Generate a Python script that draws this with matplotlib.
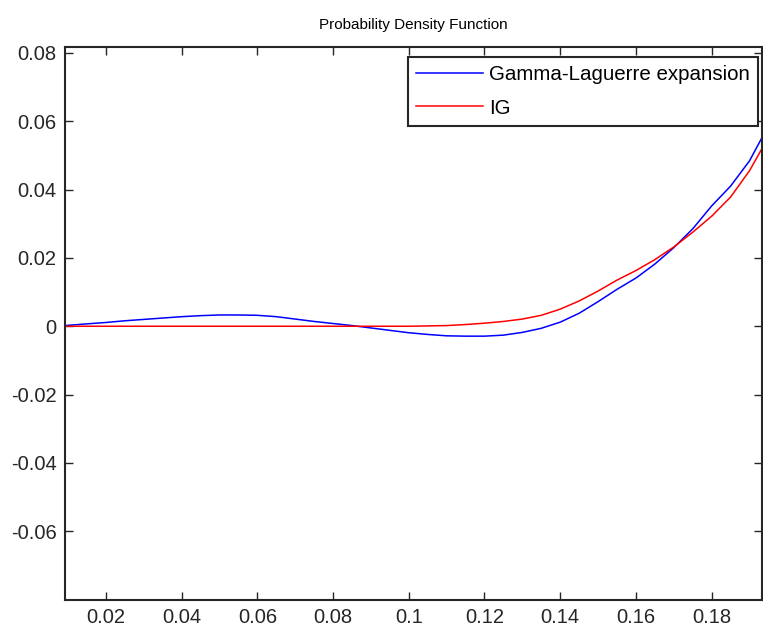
import matplotlib
matplotlib.use('Agg')
import matplotlib.pyplot as plt

# 读取自原图的数据
x = [0.0092, 0.015, 0.02, 0.025, 0.03, 0.035, 0.04, 0.045, 0.05, 0.055,
     0.06, 0.065, 0.07, 0.075, 0.08, 0.085, 0.09, 0.095, 0.10, 0.105,
     0.11, 0.115, 0.12, 0.125, 0.13, 0.135, 0.14, 0.145, 0.15, 0.155,
     0.16, 0.165, 0.17, 0.175, 0.18, 0.185, 0.19, 0.1933]
gamma_laguerre = [0.0002, 0.0007, 0.0011, 0.0016, 0.0020, 0.0024, 0.0028, 0.0031, 0.0033, 0.0033,
                  0.0032, 0.0028, 0.0021, 0.0014, 0.0008, 0.0002, -0.0005, -0.0012, -0.0019, -0.0024,
                  -0.0028, -0.0029, -0.0029, -0.0026, -0.0018, -0.0006, 0.0012, 0.0038, 0.0072, 0.0108,
                  0.0141, 0.0182, 0.0230, 0.0285, 0.0352, 0.0410, 0.0484, 0.0552]
ig = [0.0, 0.0, 0.0, 0.0, 0.0, 0.0, 0.0, 0.0, 0.0, 0.0,
      0.0, 0.0, 0.0, 0.0, 0.0, 0.0, 0.0, 0.0, 0.0, 0.0001,
      0.0002, 0.0005, 0.0009, 0.0014, 0.0021, 0.0032, 0.0050, 0.0074, 0.0103, 0.0135,
      0.0163, 0.0195, 0.0232, 0.0275, 0.0322, 0.0378, 0.0455, 0.0520]
series_names = ['Gamma-Laguerre expansion', 'IG']

xticks = [0.02, 0.04, 0.06, 0.08, 0.1, 0.12, 0.14, 0.16, 0.18]
xticklabels = ['0.02', '0.04', '0.06', '0.08', '0.1', '0.12', '0.14', '0.16', '0.18']
yticks = [-0.06, -0.04, -0.02, 0, 0.02, 0.04, 0.06, 0.08]
yticklabels = ['-0.06', '-0.04', '-0.02', '0', '0.02', '0.04', '0.06', '0.08']

plt.rcParams['font.family'] = ['Liberation Sans', 'DejaVu Sans']
plt.rcParams['axes.unicode_minus'] = False

fig = plt.figure(figsize=(7.63, 6.31), dpi=100)
ax = fig.add_axes([0.0852, 0.0491, 0.9135, 0.8764])

ax.plot(x, gamma_laguerre, color='#0000ff', linewidth=1.1, label=series_names[0])
ax.plot(x, ig, color='#ff0000', linewidth=1.1, label=series_names[1])

ax.set_xlim(0.0092, 0.1933)
ax.set_ylim(-0.0801, 0.0817)
ax.set_xticks(xticks)
ax.set_xticklabels(xticklabels)
ax.set_yticks(yticks)
ax.set_yticklabels(yticklabels)
ax.tick_params(direction='in', length=6, width=1, top=True, right=True,
               labelsize=14.5, colors='#262626', pad=6)
for s in ax.spines.values():
    s.set_linewidth(1.5)
    s.set_color('#262626')

ax.set_title('Probability Density Function', fontsize=11, pad=13)

leg = ax.legend(loc='upper right', bbox_to_anchor=(0.9943, 0.9819), borderaxespad=0,
                fontsize=14.8, handlelength=3.25, handletextpad=0.3, labelspacing=0.7,
                borderpad=0.4, fancybox=False, framealpha=1, edgecolor='#262626')
leg.get_frame().set_linewidth(1.5)

fig.savefig('out.png', dpi=100)
